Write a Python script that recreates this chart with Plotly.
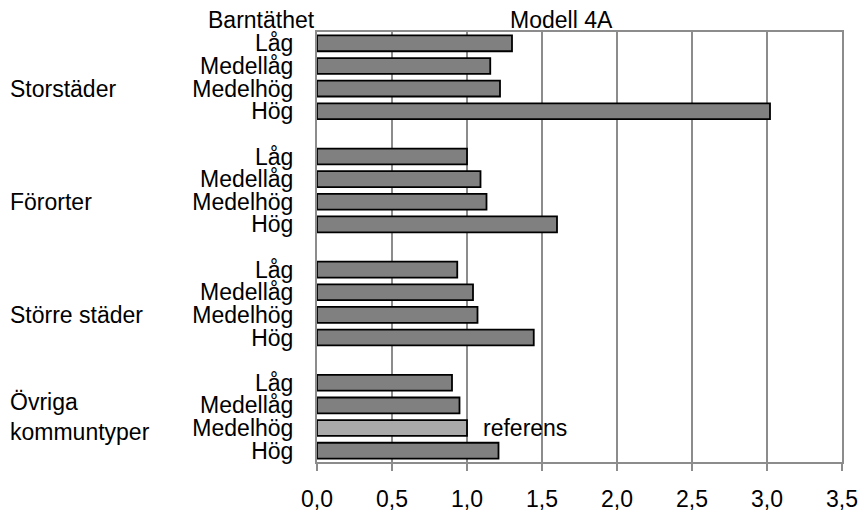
import plotly.graph_objects as go

# ---- data ----
groups = ["Storstäder", "Förorter", "Större städer", "Övriga<br>kommuntyper"]
levels = ["Låg", "Medellåg", "Medelhög", "Hög"]
storstader = [1.30, 1.155, 1.22, 3.02]
fororter = [1.00, 1.09, 1.13, 1.60]
storre_stader = [0.935, 1.04, 1.07, 1.445]
ovriga = [0.90, 0.95, 1.00, 1.21]
series = [storstader, fororter, storre_stader, ovriga]
reference_group = 3
reference_level = 2
x_ticks = [0.0, 0.5, 1.0, 1.5, 2.0, 2.5, 3.0, 3.5]
title_text = "Modell 4A"
axis_title = "Barntäthet"
reference_label = "referens"

FONT = "Liberation Sans, Arial, sans-serif"
FS = 23
DARK = "#808080"
LIGHT = "#aaaaaa"
GRID = "#8c8c8c"

slots_per_group = len(levels) + 1  # one blank slot between groups

ys, xs, colors, tickvals, ticktext = [], [], [], [], []
for gi, vals in enumerate(series):
    for li, v in enumerate(vals):
        pos = gi * slots_per_group + li
        ys.append(pos)
        xs.append(v)
        colors.append(LIGHT if (gi == reference_group and li == reference_level) else DARK)
        tickvals.append(pos)
        ticktext.append(levels[li])

n_slots = len(series) * slots_per_group - 1

fig = go.Figure()
fig.add_trace(go.Bar(
    x=xs, y=ys, orientation="h",
    marker=dict(color=colors, line=dict(color="black", width=1.8)),
    hoverinfo="x",
))

annotations = []
for gi, name in enumerate(groups):
    n_in_group = slots_per_group if gi < len(groups) - 1 else len(levels)
    center = gi * slots_per_group + (n_in_group - 1) / 2
    annotations.append(dict(
        text=name, x=-0.589, xref="paper", y=center, yref="y",
        xanchor="left", yanchor="middle", align="left", showarrow=False,
        font=dict(size=FS, color="black", family=FONT),
    ))

annotations.append(dict(
    text=axis_title, x=-0.2114, xref="paper", y=1.0, yref="paper",
    xanchor="left", yanchor="bottom", yshift=-3, showarrow=False,
    font=dict(size=FS, color="black", family=FONT),
))
annotations.append(dict(
    text=title_text, x=0.465, xref="paper", y=1.0, yref="paper",
    xanchor="center", yanchor="bottom", yshift=-3, showarrow=False,
    font=dict(size=FS, color="black", family=FONT),
))
ref_pos = reference_group * slots_per_group + reference_level
annotations.append(dict(
    text=reference_label, x=series[reference_group][reference_level], xref="x",
    y=ref_pos, yref="y", xanchor="left", yanchor="middle", xshift=14,
    showarrow=False, font=dict(size=FS, color="black", family=FONT),
))

fig.update_layout(
    width=867, height=512,
    margin=dict(l=309, r=33, t=24, b=58),
    paper_bgcolor="white", plot_bgcolor="white",
    font=dict(family=FONT, size=FS, color="black"),
    showlegend=False,
    bargap=0.3,
    separators=", ",
    annotations=annotations,
    xaxis=dict(
        range=[0, 3.5], tickvals=x_ticks, tickformat=".1f",
        showgrid=True, gridcolor=GRID, gridwidth=1.5,
        showline=True, linecolor=GRID, linewidth=1.5, mirror=True,
        ticks="outside", ticklen=7, tickcolor=GRID, tickwidth=1.5,
        ticklabelstandoff=9,
        tickfont=dict(size=FS, family=FONT, color="black"),
        zeroline=False, fixedrange=True, automargin=False,
    ),
    yaxis=dict(
        range=[n_slots - 0.5, -0.5], tickvals=tickvals, ticktext=ticktext,
        showgrid=False, showline=True, linecolor=GRID, linewidth=2, mirror=True,
        ticks="", ticklabelstandoff=17,
        tickfont=dict(size=FS, family=FONT, color="black"),
        zeroline=False, fixedrange=True, automargin=False,
    ),
)

fig.write_html("out.html")
